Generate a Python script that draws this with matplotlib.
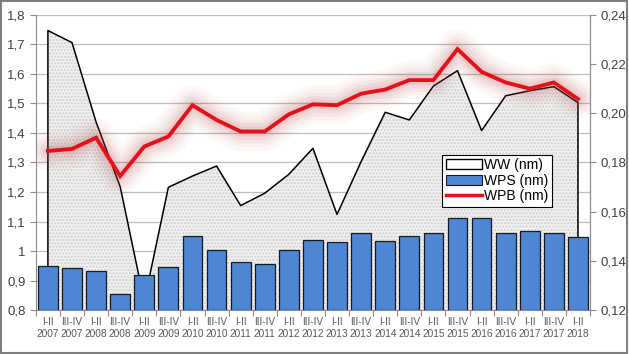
import numpy as np
import matplotlib
matplotlib.use("Agg")
import matplotlib.pyplot as plt
from matplotlib.patches import Rectangle, Patch
from matplotlib.lines import Line2D
from matplotlib.ticker import FuncFormatter, FixedLocator

plt.rcParams["font.family"] = ["Liberation Sans", "DejaVu Sans"]
plt.rcParams["hatch.color"] = "#cfcfcf"

# półrocza / lata
periods = ["I-II", "III-IV"] * 11 + ["I-II"]
years = [str(y) for y in range(2007, 2018) for _ in range(2)] + ["2018"]
labels = [f"{p}\n{y}" for p, y in zip(periods, years)]

ww = [1.747, 1.706, 1.437, 1.218, 0.83, 1.216, 1.254, 1.288, 1.154, 1.196,
      1.260, 1.348, 1.124, 1.303, 1.470, 1.444, 1.559, 1.611, 1.408, 1.526,
      1.543, 1.557, 1.503]
wps = [0.951, 0.941, 0.931, 0.854, 0.920, 0.947, 1.052, 1.002, 0.963, 0.957,
       1.003, 1.037, 1.029, 1.062, 1.033, 1.052, 1.060, 1.113, 1.111, 1.062,
       1.069, 1.062, 1.049]
wpb = [1.339, 1.346, 1.384, 1.254, 1.354, 1.388, 1.494, 1.444, 1.405, 1.405,
       1.463, 1.497, 1.494, 1.533, 1.547, 1.579, 1.579, 1.684, 1.607, 1.571,
       1.550, 1.571, 1.515]

x = np.arange(len(labels))
fig = plt.figure(figsize=(6.29, 3.54), dpi=100)
ax = fig.add_axes([0.057, 0.124, 0.881, 0.834])

# WW - pole z kropkowaną fakturą
ax.fill_between(x, 0.8, ww, facecolor="#f0f0f0", hatch=".....", lw=0, zorder=1)
ax.plot(np.r_[x[0], x, x[-1]], np.r_[0.8, ww, 0.8], color="black", lw=1.1, zorder=2)

# WPB - czerwona linia z poświatą
for w, a in [(28, 0.035), (22, 0.045), (17, 0.06), (12, 0.08), (7, 0.1)]:
    ax.plot(x, wpb, color="#b84848", lw=w, alpha=a, solid_capstyle="round",
            solid_joinstyle="round", zorder=3)
ax.plot(x, wpb, color="#e3121a", lw=2.8, solid_joinstyle="miter", zorder=5)

# WPS - słupki
ax.bar(x, np.array(wps) - 0.8, bottom=0.8, width=0.82, color="#4f86d3",
       edgecolor="#1a1a1a", lw=0.9, zorder=4)

ax.set_xlim(-0.5, len(x) - 0.5)
ax.set_ylim(0.8, 1.8)
ax.set_yticks(np.arange(0.8, 1.81, 0.1))
ax.yaxis.set_major_formatter(FuncFormatter(lambda v, p: f"{v:.1f}".replace(".", ",").replace(",0", "")))
ax.grid(axis="y", color="#bdbdbd", lw=0.9, zorder=0)
ax.set_axisbelow(True)
ax.xaxis.set_major_locator(FixedLocator(np.arange(-0.5, len(x), 1)))
ax.xaxis.set_minor_locator(FixedLocator(x))
ax.set_xticklabels([], minor=False)
ax.set_xticklabels(labels, minor=True, fontsize=7.3, color="#595959", linespacing=1.25)
ax.tick_params(axis="x", which="major", length=4, color="#8c8c8c")
ax.tick_params(axis="x", which="minor", length=0, pad=5)
ax.tick_params(axis="y", length=4, color="#8c8c8c", labelsize=9.5, labelcolor="#404040")
for s in ["left", "bottom", "right"]:
    ax.spines[s].set_color("#8c8c8c")
ax.spines["top"].set_visible(False)

ax2 = ax.twinx()
ax2.set_ylim(0.12, 0.24)
ax2.set_yticks(np.arange(0.12, 0.241, 0.02))
ax2.yaxis.set_major_formatter(FuncFormatter(lambda v, p: f"{v:.2f}".replace(".", ",")))
ax2.tick_params(axis="y", length=4, color="#8c8c8c", labelsize=9.5, labelcolor="#404040")
for s in ["left", "bottom", "top"]:
    ax2.spines[s].set_visible(False)
ax2.spines["right"].set_color("#8c8c8c")

handles = [Patch(facecolor="white", edgecolor="black", lw=1.0),
           Patch(facecolor="#4f86d3", edgecolor="#1a1a1a", lw=0.8),
           Line2D([], [], color="#e3121a", lw=2.5)]
leg = ax2.legend(handles, ["WW (nm)", "WPS (nm)", "WPB (nm)"], loc="upper left",
                 bbox_to_anchor=(0.733, 0.527), fontsize=10, frameon=True, fancybox=False,
                 edgecolor="black", framealpha=1, borderpad=0.25, labelspacing=0.12,
                 handlelength=2.6, handletextpad=0.2, borderaxespad=0)
leg.get_frame().set_linewidth(0.8)
leg.set_zorder(10)

fig.patches.append(Rectangle((0.002, 0.003), 0.995, 0.993, transform=fig.transFigure,
                             fill=False, edgecolor="#7f7f7f", lw=1.5))
fig.savefig("out.png", dpi=100)
